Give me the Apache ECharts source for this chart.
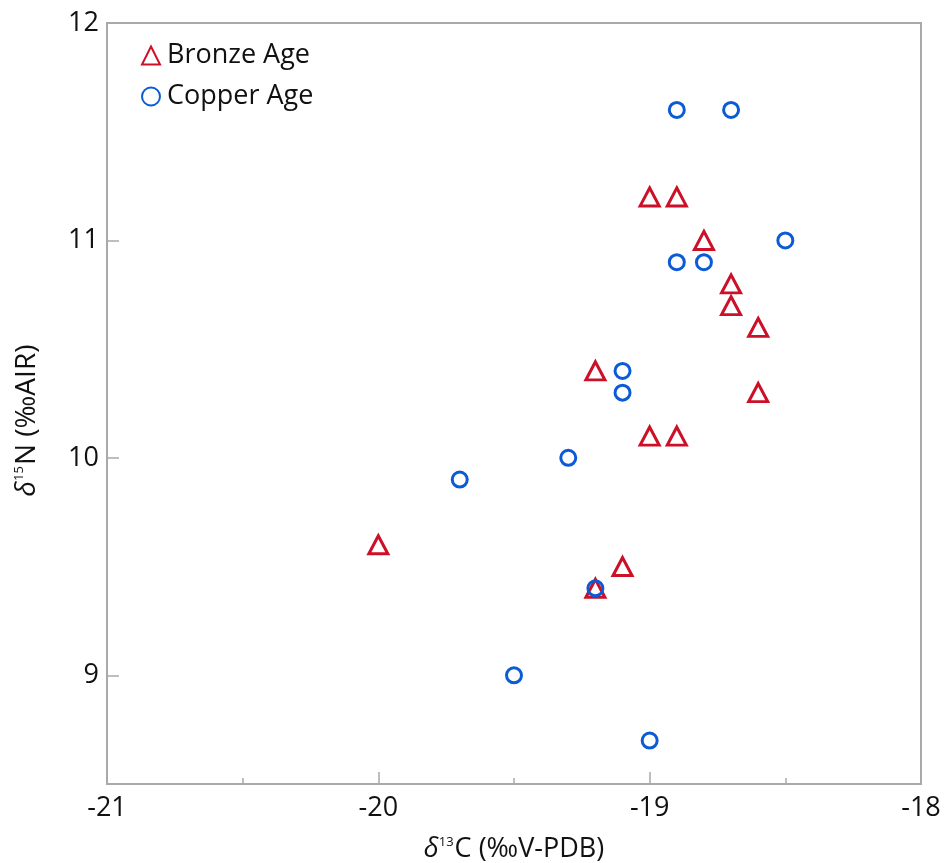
<!DOCTYPE html>
<html>
<head>
<meta charset="utf-8">
<script src="https://cdn.jsdelivr.net/npm/echarts@6/dist/echarts.min.js"></script>
<style>
  html, body { margin: 0; padding: 0; background: #fff; }
  #chart { width: 952px; height: 863px; }
</style>
</head>
<body>
<div id="chart"></div>
<script>
// δ13C / δ15N values per period
const bronzeC = [-20.0, -19.2, -19.1, -19.2, -19.0, -18.9, -19.0, -18.9, -18.8, -18.7, -18.7, -18.6, -18.6];
const bronzeN = [  9.6,   9.4,   9.5,  10.4,  10.1,  10.1,  11.2,  11.2,  11.0,  10.8,  10.7,  10.6,  10.3];
const copperC = [-18.9, -18.7, -18.5, -18.9, -18.8, -19.1, -19.1, -19.3, -19.7, -19.2, -19.5, -19.0];
const copperN = [ 11.6,  11.6,  11.0,  10.9,  10.9,  10.4,  10.3,  10.0,   9.9,   9.4,   9.0,   8.7];
const yTicks = [9, 10, 11, 12];
const seriesNames = ['Bronze Age', 'Copper Age'];

const pairs = (xs, ys) => xs.map((x, i) => [x, ys[i]]);

const AXIS_GRAY = '#a9a9a9';
const RED = '#cc1028';
const BLUE = '#0b5bd6';
const REGULAR = '"Open Sans", "Noto Sans", sans-serif';

const chart = echarts.init(document.getElementById('chart'), null, { renderer: 'canvas' });

chart.setOption({
  animation: false,
  backgroundColor: '#ffffff',
  grid: {
    left: 107, right: 31, top: 23, bottom: 79,
    outerBoundsMode: 'none',
    containLabel: false,
    show: true, borderColor: AXIS_GRAY, borderWidth: 2, backgroundColor: 'transparent'
  },
  legend: {
    orient: 'vertical',
    left: 136, top: 37,
    itemWidth: 18, itemHeight: 18, itemGap: 14,
    textStyle: { fontFamily: REGULAR, fontSize: 27, color: '#111', padding: [0, 0, 0, 2] },
    data: seriesNames
  },
  xAxis: {
    type: 'value',
    min: -21, max: -18, interval: 1,
    axisLine: { show: true, lineStyle: { color: AXIS_GRAY, width: 2 } },
    axisTick: { show: true, inside: true, length: 12, lineStyle: { color: AXIS_GRAY, width: 1.5 } },
    minorTick: { show: true, splitNumber: 2, length: 6, lineStyle: { color: AXIS_GRAY, width: 1.5 } },
    splitLine: { show: false },
    axisLabel: { fontFamily: REGULAR, fontSize: 27, color: '#111', margin: 11 },
    name: '{d|δ}{s|13}{t|C (‰V-PDB)}',
    nameLocation: 'middle',
    nameGap: 52,
    nameTextStyle: {
      rich: {
        d: { fontFamily: REGULAR, fontStyle: 'italic', fontSize: 27, color: '#111' },
        s: { fontFamily: REGULAR, fontSize: 13, color: '#111', verticalAlign: 'top', padding: [0, 1, 12, 0] },
        t: { fontFamily: REGULAR, fontSize: 27, color: '#111' }
      }
    }
  },
  yAxis: {
    type: 'value',
    min: 8.5, max: 12,
    axisLine: { show: true, lineStyle: { color: AXIS_GRAY, width: 2 } },
    axisTick: { show: true, inside: true, length: 12, customValues: yTicks, lineStyle: { color: AXIS_GRAY, width: 1.5 } },
    splitLine: { show: false },
    axisLabel: { fontFamily: REGULAR, fontSize: 27, color: '#111', margin: 8, customValues: yTicks },
    name: '{d|δ}{s|15}{t|N (‰AIR)}',
    nameLocation: 'middle',
    nameGap: 66,
    nameTextStyle: {
      padding: [0, 34, 0, 0],
      rich: {
        d: { fontFamily: REGULAR, fontStyle: 'italic', fontSize: 28, color: '#111' },
        s: { fontFamily: REGULAR, fontSize: 13, color: '#111', verticalAlign: 'top', padding: [0, 1, 12, 0] },
        t: { fontFamily: REGULAR, fontSize: 28, color: '#111' }
      }
    }
  },
  series: [
    {
      name: seriesNames[0],
      type: 'scatter',
      symbol: 'triangle',
      symbolSize: [19, 18],
      itemStyle: { color: 'rgba(255,255,255,0)', borderColor: RED, borderWidth: 3, opacity: 1 },
      data: pairs(bronzeC, bronzeN),
      z: 2
    },
    {
      name: seriesNames[1],
      type: 'scatter',
      symbol: 'circle',
      symbolSize: 15,
      itemStyle: { color: 'rgba(255,255,255,0)', borderColor: BLUE, borderWidth: 3, opacity: 1 },
      data: pairs(copperC, copperN),
      z: 3
    }
  ]
});
</script>
</body>
</html>
